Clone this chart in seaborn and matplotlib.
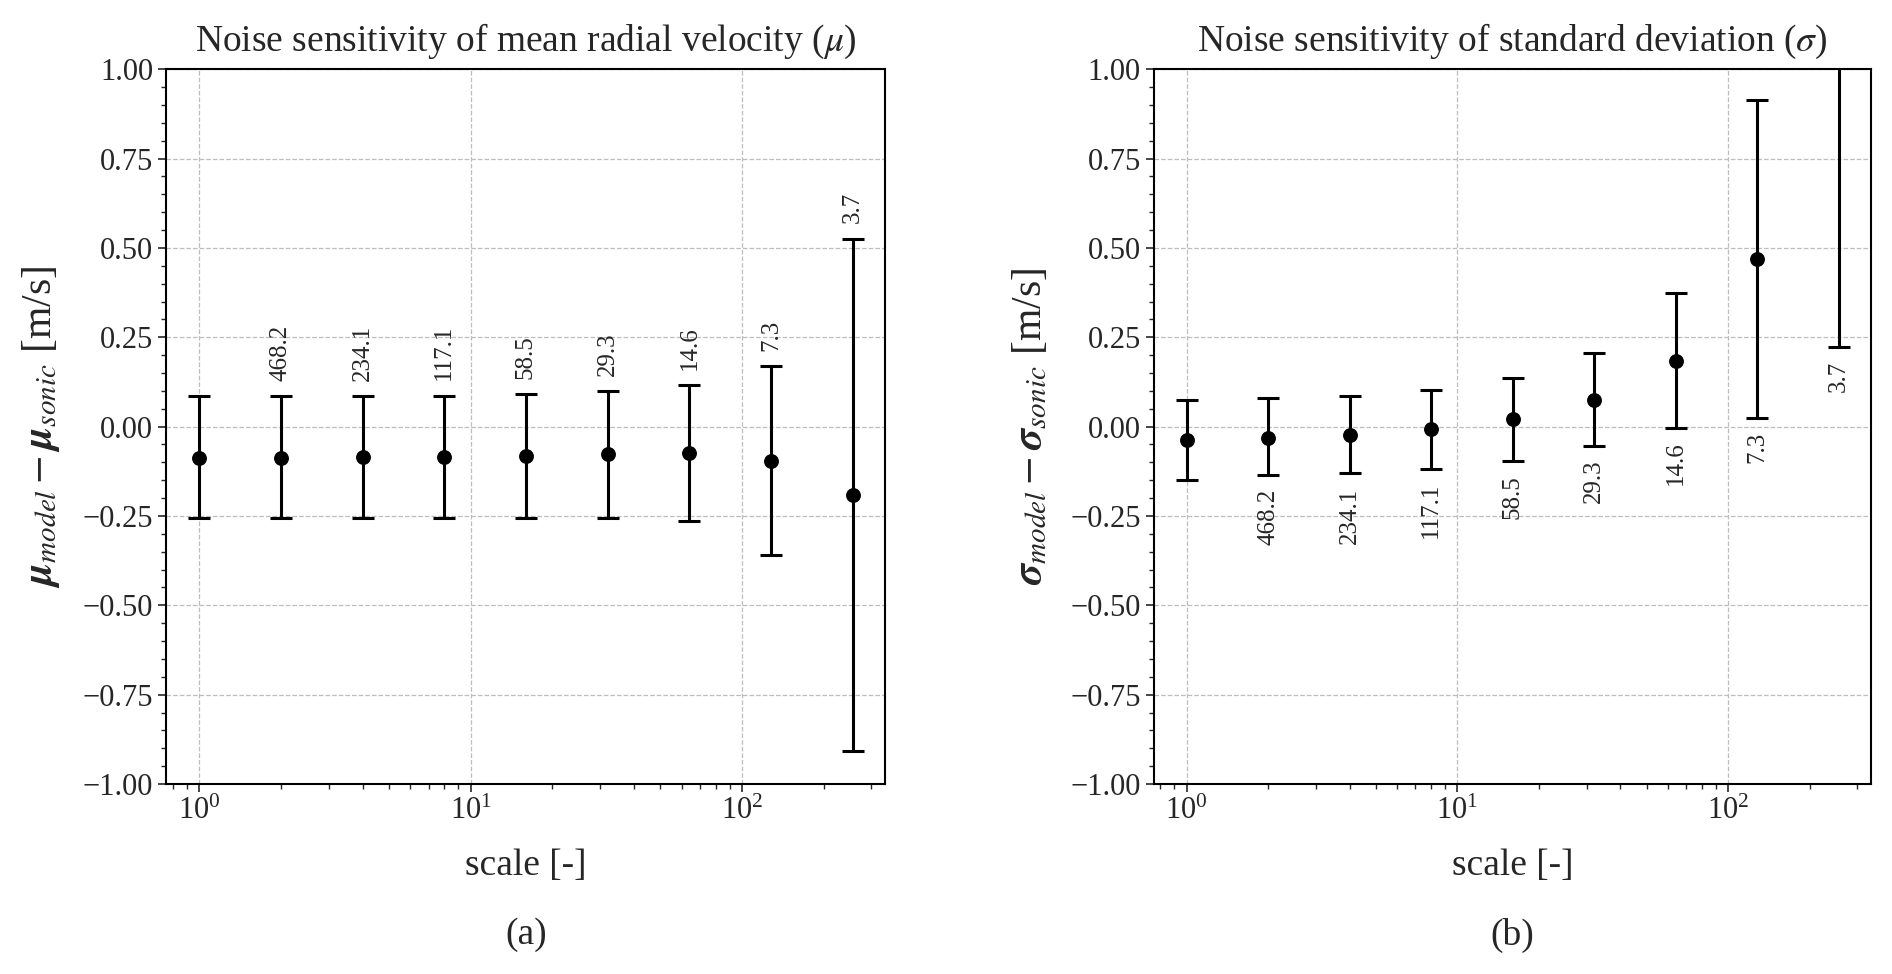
import numpy as np
import seaborn as sns
import matplotlib
matplotlib.use('Agg')
import matplotlib.pyplot as plt
from matplotlib.ticker import MultipleLocator

# scale factors and the noise level annotated at each point
scale = [1, 2, 4, 8, 16, 32, 64, 128, 256]
noise_labels = ['', '468.2', '234.1', '117.1', '58.5', '29.3', '14.6', '7.3', '3.7']

# (a) mean radial velocity difference: centre, lower and upper end of bar
mu_mean = [-0.087, -0.087, -0.086, -0.085, -0.082, -0.078, -0.074, -0.097, -0.19]
mu_low = [-0.255, -0.255, -0.255, -0.255, -0.255, -0.255, -0.264, -0.36, -0.907]
mu_high = [0.086, 0.086, 0.086, 0.087, 0.090, 0.099, 0.117, 0.169, 0.526]

# (b) standard deviation difference
sig_mean = [-0.038, -0.031, -0.023, -0.007, 0.020, 0.075, 0.184, 0.470, 1.32]
sig_low = [-0.148, -0.136, -0.131, -0.118, -0.096, -0.054, -0.003, 0.025, 0.222]
sig_high = [0.074, 0.079, 0.086, 0.103, 0.136, 0.207, 0.374, 0.913, 2.42]


def plot_panel(ax, mean, low, high, title, ylabel, label_above=True):
    mean = np.array(mean)
    yerr = [mean - np.array(low), np.array(high) - mean]
    ax.errorbar(scale, mean, yerr=yerr, fmt='none', ecolor='black',
                elinewidth=2.2, capsize=8, capthick=2.2, zorder=3)
    sns.scatterplot(x=scale, y=mean, ax=ax, color='black', s=115,
                    edgecolor='black', linewidth=0, zorder=4)
    ax.set_xscale('log')
    ax.set_ylim(-1.0, 1.0)
    ax.yaxis.set_major_locator(MultipleLocator(0.25))
    ax.yaxis.set_minor_locator(MultipleLocator(0.05))

    for i in range(len(scale)):
        if noise_labels[i] == '':
            continue
        if label_above:
            ax.annotate(noise_labels[i], (scale[i], high[i]), xytext=(0, 11),
                        textcoords='offset points', rotation=90,
                        ha='center', va='bottom', fontsize=18, clip_on=True)
        else:
            ax.annotate(noise_labels[i], (scale[i], low[i]), xytext=(0, -10),
                        textcoords='offset points', rotation=90,
                        ha='center', va='top', fontsize=18, clip_on=True)

    ax.grid(True, which='major', linestyle='--', color='#bdbdbd', linewidth=0.9)
    ax.set_axisbelow(True)
    ax.set_title(title, fontsize=27, pad=13)
    ax.set_xlabel('scale [-]', fontsize=27, labelpad=16)
    ax.set_ylabel(ylabel, fontsize=30, labelpad=15)
    ax.tick_params(axis='both', which='major', labelsize=22, length=6, width=1.2,
                   direction='out', left=True, bottom=True)
    ax.tick_params(axis='both', which='minor', length=3.5, width=1.0,
                   direction='out', left=True, bottom=True)
    for sp in ax.spines.values():
        sp.set_color('black')
        sp.set_linewidth(1.5)


sns.set_style('white')
plt.rcParams['font.family'] = ['Liberation Serif', 'DejaVu Serif']
plt.rcParams['mathtext.fontset'] = 'stix'
plt.rcParams['axes.unicode_minus'] = True

fig = plt.figure(figsize=(18.92, 9.74), dpi=100)
ax1 = fig.add_axes([0.088, 0.195, 0.380, 0.734])
ax2 = fig.add_axes([0.610, 0.195, 0.379, 0.734])

plot_panel(ax1, mu_mean, mu_low, mu_high,
           r'Noise sensitivity of mean radial velocity ($\mu$)',
           r'$\boldsymbol{\mu}_{model} - \boldsymbol{\mu}_{sonic}$ [m/s]', label_above=True)
plot_panel(ax2, sig_mean, sig_low, sig_high,
           r'Noise sensitivity of standard deviation ($\sigma$)',
           r'$\boldsymbol{\sigma}_{model} - \boldsymbol{\sigma}_{sonic}$ [m/s]', label_above=False)

fig.text(0.088 + 0.380 / 2, 0.04, '(a)', ha='center', va='center', fontsize=27)
fig.text(0.610 + 0.379 / 2, 0.04, '(b)', ha='center', va='center', fontsize=27)

plt.savefig('out.png', dpi=100)
plt.close()
